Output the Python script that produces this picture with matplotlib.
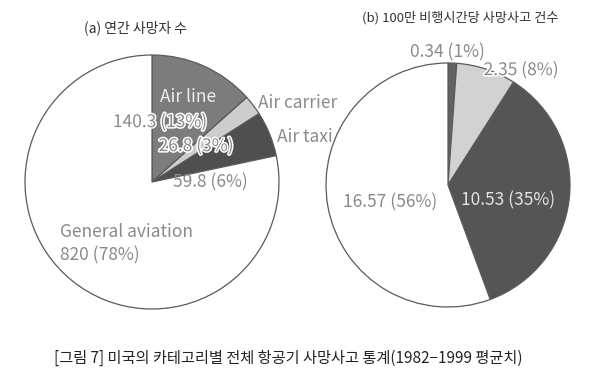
import matplotlib
matplotlib.use("Agg")
import matplotlib.pyplot as plt
import matplotlib.patheffects as pe

plt.rcParams['font.family'] = ['Noto Sans CJK KR', 'DejaVu Sans']

# data (1982-1999 averages)
categories = ["Air line", "Air carrier", "Air taxi", "General aviation"]
deaths = [140.3, 26.8, 59.8, 820]
deaths_pct = [13, 3, 6, 78]
rates = [0.34, 2.35, 10.53, 16.57]
rates_pct = [1, 8, 35, 56]

left_colors = ["#7c7c7c", "#cdcdcd", "#4f4f4f", "#ffffff"]
right_colors = ["#626262", "#d2d2d2", "#555555", "#ffffff"]

title_a = "(a) 연간 사망자 수"
title_b = "(b) 100만 비행시간당 사망사고 건수"
caption = "[그림 7] 미국의 카테고리별 전체 항공기 사망사고 통계(1982−1999 평균치)"

H = 384
fig = plt.figure(figsize=(6, 3.84), dpi=100)
ax = fig.add_axes([0, 0, 1, 1])

wp = dict(edgecolor="#5a5a5a", linewidth=0.9)
ax.pie(deaths, colors=left_colors, startangle=90, counterclock=False,
       center=(152, H - 182), radius=127, wedgeprops=wp)
ax.pie(rates, colors=right_colors, startangle=90, counterclock=False,
       center=(448, H - 185), radius=122, wedgeprops=wp)

ax.set_xlim(0, 600)
ax.set_ylim(0, H)
ax.set_aspect("equal")
ax.axis("off")

grey = "#8a8a8a"
halo = [pe.withStroke(linewidth=2.2, foreground="white")]


def put(x, y, s, color=grey, size=12.5, ha="center", effects=None):
    ax.text(x, H - y, s, color=color, fontsize=size, ha=ha, va="center",
            path_effects=effects)


def lab(v, p):
    return "{} ({}%)".format(v, p)


# titles and caption
put(136, 28, title_a, color="#333333", size=10)
put(460, 18, title_b, color="#333333", size=9.5)
put(288, 358, caption, color="#222222", size=11)

# left pie labels
put(188, 97, categories[0], color="#eeeeee", size=12.5)
put(160, 122, lab(deaths[0], deaths_pct[0]), effects=halo)
put(196, 146, lab(deaths[1], deaths_pct[1]), effects=halo)
put(210, 182, lab(deaths[2], deaths_pct[2]))
put(258, 103, categories[1], ha="left", size=12.5)
put(277, 137, categories[2], ha="left", size=12.5)
put(60, 232, categories[3], ha="left", size=12.5)
put(60, 255, lab(deaths[3], deaths_pct[3]), ha="left")

# right pie labels
put(447, 52, lab(rates[0], rates_pct[0]))
put(521, 70, lab(rates[1], rates_pct[1]), effects=halo)
put(508, 200, lab(rates[2], rates_pct[2]), color="#e2e2e2")
put(390, 202, lab(rates[3], rates_pct[3]))

fig.savefig("out.png", dpi=100, facecolor="white")
